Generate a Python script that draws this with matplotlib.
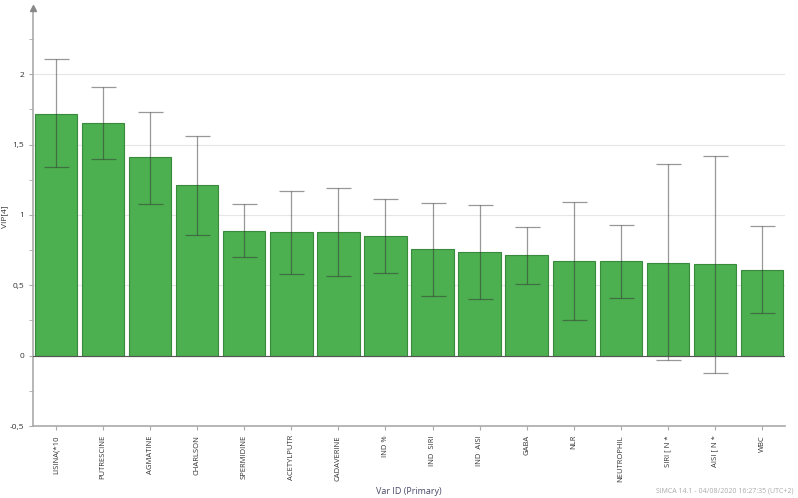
import matplotlib
matplotlib.use("Agg")
import matplotlib.pyplot as plt
import numpy as np
from matplotlib.ticker import MultipleLocator, FuncFormatter

plt.rcParams['font.family'] = ['Open Sans', 'DejaVu Sans']

# VIP values with confidence limits
names = ["LISINA(*10", "PUTRESCINE", "AGMATINE", "CHARLSON", "SPERMIDINE",
         "ACETYLPUTR", "CADAVERINE", "IND %", "IND  SIRI", "IND  AISI",
         "GABA", "NLR", "NEUTROPHIL", "SIRI [ N *", "AISI [ N *", "WBC"]
vip = [1.72, 1.65, 1.41, 1.21, 0.885, 0.88, 0.875, 0.847, 0.756, 0.735,
       0.712, 0.672, 0.67, 0.66, 0.648, 0.61]
ci_low = [1.34, 1.40, 1.08, 0.86, 0.70, 0.58, 0.565, 0.59, 0.422, 0.40,
          0.507, 0.253, 0.41, -0.033, -0.122, 0.30]
ci_high = [2.11, 1.91, 1.73, 1.56, 1.077, 1.17, 1.19, 1.11, 1.087, 1.073,
           0.917, 1.09, 0.928, 1.36, 1.42, 0.924]

vip = np.array(vip)
err = np.array([vip - np.array(ci_low), np.array(ci_high) - vip])
x = np.arange(len(names))

fig = plt.figure(figsize=(7.98, 4.98), dpi=100)
ax = fig.add_axes([33/798, 1 - 426/498, (785-33)/798, (426-8)/498])

ax.bar(x, vip, width=0.9, color='#4caf50', edgecolor='#3a8a3d', linewidth=0.8, zorder=2)
ax.errorbar(x, vip, yerr=err, fmt='none', ecolor='#333333', alpha=0.5,
            elinewidth=0.9, capsize=9, capthick=0.9, zorder=3)

ax.set_xlim(-0.49, 15.49)
ax.set_ylim(-0.5, 2.47)
ax.yaxis.set_major_locator(MultipleLocator(0.5))
ax.yaxis.set_minor_locator(MultipleLocator(0.25))
ax.yaxis.set_major_formatter(FuncFormatter(lambda v, p: ('%g' % v).replace('.', ',')))
ax.grid(axis='y', which='major', color='#e6e6e6', linewidth=0.8, zorder=0)
ax.axhline(0, color='#555555', linewidth=0.8, zorder=4)

ax.set_xticks(x)
ax.set_xticklabels(names, rotation=90, fontsize=5.5, color='#333333')
ax.tick_params(axis='y', which='both', labelsize=6, colors='#333333', length=3, color='#aaaaaa')
ax.tick_params(axis='x', length=3, color='#aaaaaa')

for s in ['top', 'right']:
    ax.spines[s].set_visible(False)
ax.spines['left'].set_color('#aaaaaa')
ax.spines['bottom'].set_color('#aaaaaa')
ax.spines['left'].set_linewidth(1.2)
ax.spines['bottom'].set_linewidth(1.2)

# arrow head on top of y axis
ax.plot(0, 1, marker='^', color='#888888', markersize=5, transform=ax.transAxes,
        clip_on=False, zorder=5)

ax.set_ylabel('VIP[4]', fontsize=6, color='#333333')
ax.yaxis.set_label_coords(-25/752, 0.5)
ax.set_xlabel('Var ID (Primary)', fontsize=6.5, color='#4a4a6a', labelpad=4)

fig.text(793/798, 1 - 491/498, 'SIMCA 14.1 - 04/08/2020 16:27:35 (UTC+2)',
         fontsize=5, color='#aaaaaa', ha='right', va='center')

fig.savefig('out.png', dpi=100)
